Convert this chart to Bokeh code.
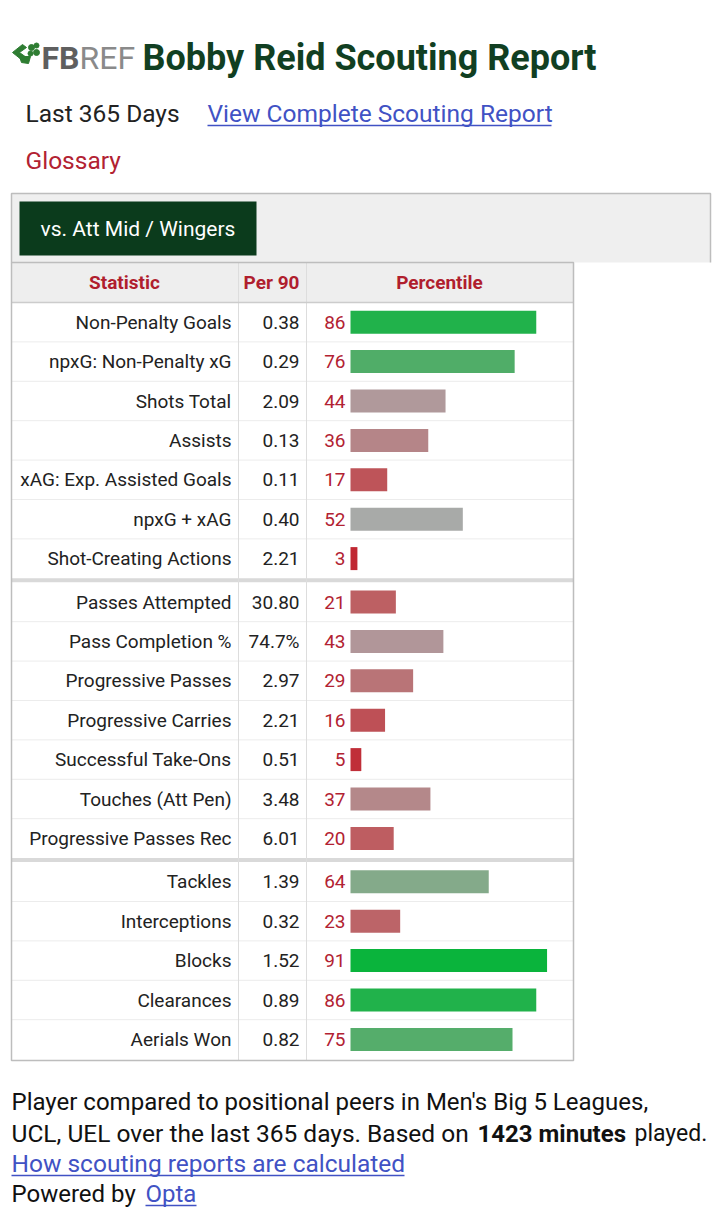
from bokeh.plotting import figure
from bokeh.models import Range1d, ColumnDataSource
from bokeh.transform import linear_cmap
from bokeh.core.properties import value
from bokeh.embed import file_html
from bokeh.resources import INLINE

# ---------------- data ----------------
player = "Bobby Reid"
group_sizes = [7, 7, 5]
statistics = [
    "Non-Penalty Goals", "npxG: Non-Penalty xG", "Shots Total", "Assists",
    "xAG: Exp. Assisted Goals", "npxG + xAG", "Shot-Creating Actions",
    "Passes Attempted", "Pass Completion %", "Progressive Passes",
    "Progressive Carries", "Successful Take-Ons", "Touches (Att Pen)",
    "Progressive Passes Rec",
    "Tackles", "Interceptions", "Blocks", "Clearances", "Aerials Won",
]
per90 = ["0.38", "0.29", "2.09", "0.13", "0.11", "0.40", "2.21",
         "30.80", "74.7%", "2.97", "2.21", "0.51", "3.48", "6.01",
         "1.39", "0.32", "1.52", "0.89", "0.82"]
percentile = [86, 76, 44, 36, 17, 52, 3,
              21, 43, 29, 16, 5, 37, 20,
              64, 23, 91, 86, 75]
headers = ["Statistic", "Per 90", "Percentile"]
minutes = "1423 minutes"

# ---------------- palette (style) ----------------
anchors = [(0, (192, 30, 42)), (20, (190, 93, 97)), (44, (176, 153, 155)),
           (52, (168, 170, 168)), (64, (132, 170, 138)), (75, (85, 173, 107)),
           (91, (10, 180, 60)), (100, (0, 182, 50))]
def interp(v):
    for (a, ca), (b, cb) in zip(anchors[:-1], anchors[1:]):
        if a <= v <= b:
            t = (v - a) / (b - a)
            return "#%02x%02x%02x" % tuple(int(round(ca[i] + (cb[i] - ca[i]) * t)) for i in range(3))
    return "#a8a8a8"
palette = [interp(i) for i in range(101)]

# ---------------- figure ----------------
W, H = 712, 1221
p = figure(width=W, height=H, output_backend="svg", toolbar_location=None,
           x_range=Range1d(0, W), y_range=Range1d(H, 0),
           min_border=0, outline_line_color=None)
p.axis.visible = False
p.grid.visible = False
p.background_fill_color = "white"
p.border_fill_color = "white"

FONT = value("Roboto")
DARK = "#222222"
RED = "#b22232"
GREEN_T = "#113f22"
LINK = "#4152c4"

# percentile scale: 0 -> px 350, 2.16 px per point
PX0, PXK = 350.0, 2.16
p.extra_x_ranges = {"pct": Range1d((0 - PX0) / PXK, (W - PX0) / PXK)}

# ---- logo ----
p.patch([12, 22, 26, 19, 26, 22], [52, 44, 47, 52, 57, 60], color="#2e7d32")
p.patch([19, 30, 28, 21], [56, 56, 63, 62], color="#2e7d32")
p.scatter([31, 36, 30, 36], [47, 45, 53, 52], size=[6, 5, 5, 6], color="#2e7d32")
p.text(x=[41], y=[57], text=["FB"], text_font=FONT, text_font_style="bold",
       text_font_size="32px", text_color="#5f5f5f", text_baseline="middle", text_align="left")
p.text(x=[79], y=[57], text=["REF"], text_font=FONT, text_font_style="normal",
       text_font_size="32px", text_color="#8a8a8a", text_baseline="middle", text_align="left")
p.text(x=[142], y=[57], text=[f"{player} Scouting Report"], text_font=FONT,
       text_font_style="bold", text_font_size="36px", text_color=GREEN_T,
       text_baseline="middle", text_align="left")

# ---- sub links ----
p.text(x=[25], y=[113], text=["Last 365 Days"], text_font=FONT, text_font_size="24.5px",
       text_color=DARK, text_baseline="middle")
p.text(x=[207], y=[113], text=["View Complete Scouting Report"], text_font=FONT,
       text_font_size="24.5px", text_color=LINK, text_baseline="middle")
p.segment(x0=[207], y0=[125], x1=[551], y1=[125], line_color=LINK, line_width=1.3)
p.text(x=[25], y=[160], text=["Glossary"], text_font=FONT, text_font_size="24.5px",
       text_color=RED, text_baseline="middle")

# ---- tab area ----
p.quad(left=[11], right=[710], top=[193], bottom=[262], fill_color="#efefef", line_color=None)
p.multi_line(xs=[[11, 11, 710, 710]], ys=[[262, 193, 193, 262]], line_color="#bdbdbd", line_width=1.5)
p.quad(left=[19], right=[256], top=[201], bottom=[255], fill_color="#0b3b1c", line_color=None)
p.text(x=[137.5], y=[228], text=["vs. Att Mid / Wingers"], text_font=FONT, text_font_size="21px",
       text_color="white", text_align="center", text_baseline="middle")

# ---- table ----
TL, TR, TT, TB = 11, 573, 262, 1060
HEAD_B = 302
C1, C2 = 238, 306
ROW_H = 39.4
SEP = 4
p.quad(left=[TL], right=[TR], top=[TT], bottom=[HEAD_B], fill_color="#eeeeee", line_color=None)
p.text(x=[124, 271, 439], y=[282] * 3, text=headers, text_font=FONT, text_font_style="bold",
       text_font_size="19px", text_color="#b01e2e", text_align="center", text_baseline="middle")

ycs, div_y, sep_y = [], [], []
top = HEAD_B
for gi, n in enumerate(group_sizes):
    for r in range(n):
        ycs.append(top + ROW_H * (r + 0.5))
        if r < n - 1:
            div_y.append(top + ROW_H * (r + 1))
    top += ROW_H * n
    if gi < len(group_sizes) - 1:
        sep_y.append(top + SEP / 2)
        top += SEP

p.segment(x0=[TL] * len(div_y), x1=[TR] * len(div_y), y0=div_y, y1=div_y,
          line_color="#ececec", line_width=1)
p.quad(left=[TL] * len(sep_y), right=[TR] * len(sep_y),
       top=[y - SEP / 2 for y in sep_y], bottom=[y + SEP / 2 for y in sep_y],
       fill_color="#d9d9d9", line_color=None)
p.segment(x0=[C1, C2], x1=[C1, C2], y0=[TT, TT], y1=[TB, TB], line_color="#dddddd", line_width=1)
p.segment(x0=[TL], x1=[TR], y0=[HEAD_B], y1=[HEAD_B], line_color="#cccccc", line_width=1.5)
p.quad(left=[TL], right=[TR], top=[TT], bottom=[TB], fill_color=None, line_color="#bdbdbd", line_width=1.5)

src = ColumnDataSource(dict(
    y=ycs, stat=statistics, per90=per90, pct=percentile,
    pct_txt=[str(v) for v in percentile],
    zero=[0] * len(percentile),
    barr=[max(v, 3.2) for v in percentile],
))
TFS = "19px"
p.text(x=231, y="y", text="stat", source=src, text_font=FONT, text_font_size=TFS,
       text_color=DARK, text_align="right", text_baseline="middle")
p.text(x=299, y="y", text="per90", source=src, text_font=FONT, text_font_size=TFS,
       text_color=DARK, text_align="right", text_baseline="middle")
p.text(x=345, y="y", text="pct_txt", source=src, text_font=FONT, text_font_size=TFS,
       text_color=RED, text_align="right", text_baseline="middle")
p.hbar(y="y", left="zero", right="barr", height=23, source=src, x_range_name="pct",
       fill_color=linear_cmap("pct", palette, 0, 100), line_color=None)

# ---- footer ----
FS = "24px"
p.text(x=[11], y=[1101], text=["Player compared to positional peers in Men's Big 5 Leagues,"],
       text_font=FONT, text_font_size=FS, text_color="#111111", text_baseline="middle")
p.text(x=[11], y=[1133], text=["UCL, UEL over the last 365 days. Based on"],
       text_font=FONT, text_font_size="24.5px", text_color="#111111", text_baseline="middle")
p.text(x=[477], y=[1133], text=[minutes], text_font=FONT, text_font_style="bold",
       text_font_size=FS, text_color="#111111", text_baseline="middle")
p.text(x=[634], y=[1133], text=["played."], text_font=FONT, text_font_size="23px",
       text_color="#111111", text_baseline="middle")
p.text(x=[11], y=[1163], text=["How scouting reports are calculated"], text_font=FONT,
       text_font_size="24.5px", text_color=LINK, text_baseline="middle")
p.segment(x0=[11], x1=[404], y0=[1175], y1=[1175], line_color=LINK, line_width=1.3)
p.text(x=[11], y=[1193], text=["Powered by "], text_font=FONT, text_font_size=FS,
       text_color="#111111", text_baseline="middle")
p.text(x=[145], y=[1193], text=["Opta"], text_font=FONT, text_font_size=FS,
       text_color=LINK, text_baseline="middle")
p.segment(x0=[145], x1=[196], y0=[1205], y1=[1205], line_color=LINK, line_width=1.3)

open("out.html", "w").write(file_html(p, INLINE))
